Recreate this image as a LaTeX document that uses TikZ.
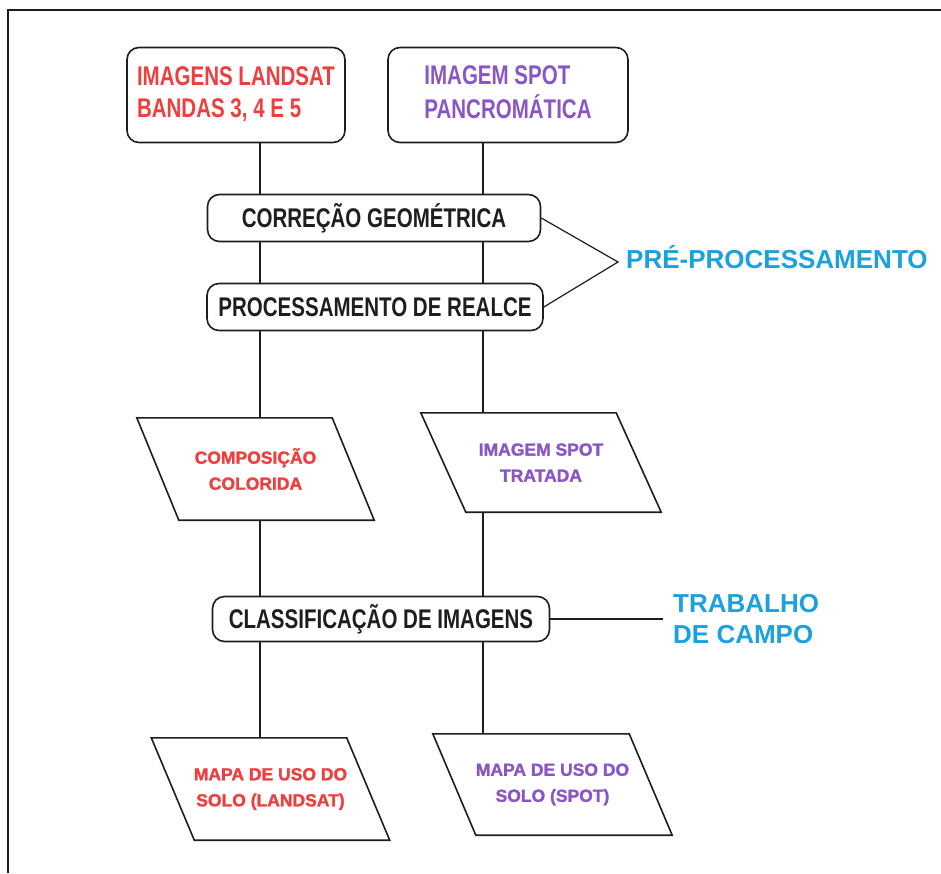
\documentclass[tikz,border=0pt]{standalone}
\usepackage{fontspec}
\setmainfont{Liberation Sans}
\newfontfamily\nb{Liberation Sans}[FakeStretch=0.76]
\newfontfamily\heavy{Liberation Sans}[BoldFeatures={FakeBold=1.5}]
\usetikzlibrary{calc}
\definecolor{cred}{HTML}{EF3E3E}
\definecolor{cpurple}{HTML}{8A55C6}
\definecolor{cblue}{HTML}{1BA0E0}
\definecolor{cink}{HTML}{1E1E1E}
\tikzset{
  frameline/.style={line width=1.6pt, draw=cink},
  procbox/.style={draw=cink, line width=1.6pt, rounded corners=12pt, inner sep=0pt,
    font={\nb\bfseries\fontsize{27}{32}\selectfont}, align=center},
  paratext/.style={inner sep=0pt, align=center,
    font={\heavy\bfseries\fontsize{17.5}{26}\selectfont}},
  paraline/.style={draw=cink, line width=1.6pt, line join=miter},
  conn/.style={draw=cink, line width=1.8pt},
  thin/.style={draw=cink, line width=1.2pt},
  bluetext/.style={text=cblue, inner sep=0pt, align=left,
    font={\bfseries\fontsize{26}{31}\selectfont}}
}
\newcommand{\paraframe}[2]{%
  \draw[paraline] ($(#1.north west)+(-#2,0)$) -- ($(#1.north east)+(-#2,0)$)
    -- ($(#1.south east)+(#2,0)$) -- ($(#1.south west)+(#2,0)$) -- cycle;}
\begin{document}
\begin{tikzpicture}[x=1pt,y=-1pt]
\useasboundingbox (0,0) rectangle (941,873);
\draw[frameline] (8,873) -- (8,10) -- (941,10);

% column x positions
\coordinate (lx) at (260,0);
\coordinate (rx) at (483,0);

% top boxes
\node[procbox, minimum width=218pt, minimum height=95pt, text=cred] (l1) at (236,95)
  {\begin{tabular}{@{}l@{}}IMAGENS LANDSAT\\BANDAS 3, 4 E 5\end{tabular}};
\node[procbox, minimum width=240pt, minimum height=95pt, text=cpurple] (s1) at (508,95)
  {\begin{tabular}{@{}l@{}}IMAGEM SPOT\\PANCROMÁTICA\end{tabular}};

% processing boxes
\node[procbox, minimum width=333pt, minimum height=47pt, text=cink] (cg) at (374,218)
  {CORREÇÃO GEOMÉTRICA};
\node[procbox, minimum width=336pt, minimum height=47pt, text=cink] (pr) at (375,307)
  {PROCESSAMENTO DE REALCE};
\node[procbox, minimum width=337pt, minimum height=45pt, text=cink] (cl) at (381,619)
  {CLASSIFICAÇÃO DE IMAGENS};

% parallelograms
\node[paratext, minimum width=195pt, minimum height=102pt, text=cred] (cc) at (255.5,469)
  {COMPOSIÇÃO\\COLORIDA};
\paraframe{cc}{21}
\node[paratext, minimum width=195pt, minimum height=99pt, text=cpurple] (st) at (541,462.5)
  {IMAGEM SPOT\\TRATADA};
\paraframe{st}{22.5}
\node[paratext, minimum width=195pt, minimum height=102pt, text=cred] (ml) at (270.5,789)
  {MAPA DE USO DO\\SOLO (LANDSAT)};
\paraframe{ml}{21.5}
\node[paratext, minimum width=196pt, minimum height=101pt, text=cpurple] (ms) at (552.5,784.5)
  {MAPA DE USO DO\\SOLO (SPOT)};
\paraframe{ms}{21.5}

% vertical connectors, left column
\draw[conn] (l1.south -| lx) -- (cg.north -| lx);
\draw[conn] (cg.south -| lx) -- (pr.north -| lx);
\draw[conn] (pr.south -| lx) -- (cc.north -| lx);
\draw[conn] (cc.south -| lx) -- (cl.north -| lx);
\draw[conn] (cl.south -| lx) -- (ml.north -| lx);
% vertical connectors, right column
\draw[conn] (s1.south -| rx) -- (cg.north -| rx);
\draw[conn] (cg.south -| rx) -- (pr.north -| rx);
\draw[conn] (pr.south -| rx) -- (st.north -| rx);
\draw[conn] (st.south -| rx) -- (cl.north -| rx);
\draw[conn] (cl.south -| rx) -- (ms.north -| rx);

% pre-processing bracket
\coordinate (tip) at (618,262);
\node[bluetext, anchor=west] (pp) at (626,257) {PRÉ-PROCESSAMENTO};
\draw[thin] (cg.east) -- (tip) -- (pr.east);

% field work
\node[bluetext, anchor=west] (tc) at (673,619) {TRABALHO\\DE CAMPO};
\draw[thin] (cl.east) -- ([xshift=-10pt]tc.west);
\end{tikzpicture}
\end{document}
